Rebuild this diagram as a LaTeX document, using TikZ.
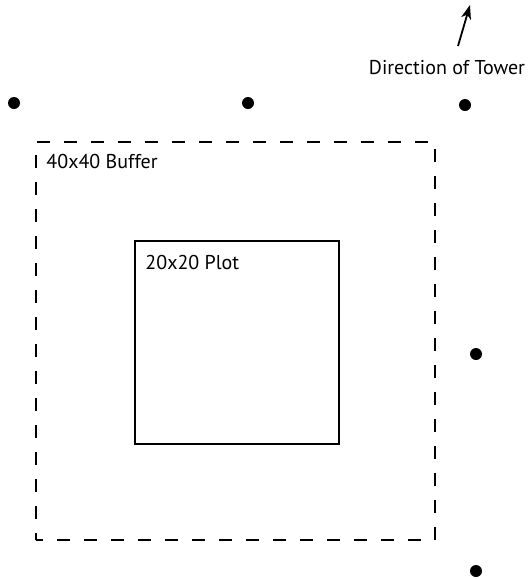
\documentclass[tikz,border=0pt]{standalone}
\usepackage{fontspec}
\setmainfont{PT Sans}
\usetikzlibrary{arrows.meta,positioning}

\begin{document}
\begin{tikzpicture}[x=1pt,y=-1pt,font=\fontsize{20}{24}\selectfont]
\tikzset{
  tower/.style={circle,fill=black,inner sep=0pt,minimum size=12pt},
  plotbox/.style={draw,line width=1.5pt,inner sep=0pt},
  bufbox/.style={plotbox,dash pattern=on 13pt off 14pt,dash phase=6pt},
  lbl/.style={inner sep=0pt,anchor=north west},
  arr/.style={-{Stealth[length=14pt,width=10pt,inset=4pt]},line width=1.8pt}
}
\useasboundingbox (0,0) rectangle (529,579);
% tower points
\node(t1)[tower] at (14,103){};
\node(t2)[tower] at (248,103){};
\node(t3)[tower] at (465,105){};
\node(t4)[tower] at (476,354){};
\node(t5)[tower] at (476,571){};
% buffer and plot
\node(buf)[bufbox,minimum width=399pt,minimum height=398pt] at (235.5,341){};
\node(plot)[plotbox,minimum width=204pt,minimum height=203pt] at (237,342.5){};
\node(buflbl)[lbl,below right=13pt and 11pt of buf.north west]{40x40 Buffer};
\node(plotlbl)[lbl,below right=15pt and 11pt of plot.north west]{20x20 Plot};
% direction
\node(dir) at (447,68){Direction of Tower};
\coordinate(tail) at (458,46);
\coordinate(head) at (470,5);
\draw[arr](tail)--(head);
\end{tikzpicture}
\end{document}
